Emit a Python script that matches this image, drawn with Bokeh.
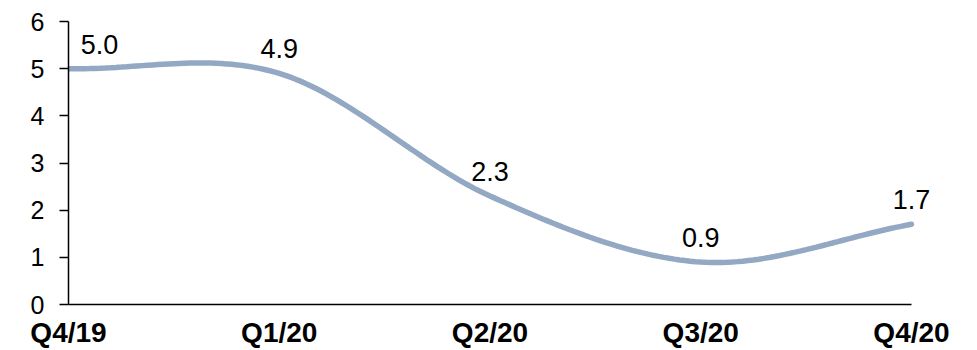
from bokeh.plotting import figure
from bokeh.models import ColumnDataSource, FixedTicker, LabelSet
from bokeh.core.properties import value
from bokeh.embed import file_html
from bokeh.resources import INLINE

# Quarterly values
quarters = ["Q4/19", "Q1/20", "Q2/20", "Q3/20", "Q4/20"]
values = [5.0, 4.9, 2.3, 0.9, 1.7]
labels = ["5.0", "4.9", "2.3", "0.9", "1.7"]

FONT = "Liberation Sans"
LINE_COLOR = "#93A8C3"

xs = list(range(len(quarters)))


def smooth_curve(x, y, steps=40):
    """Cubic Bezier smoothing through every point (Catmull-Rom style tangents)."""
    n = len(y)
    tang = []
    for i in range(n):
        if i == 0:
            tang.append(y[1] - y[0])
        elif i == n - 1:
            tang.append(y[-1] - y[-2])
        else:
            tang.append((y[i + 1] - y[i - 1]) / 2.0)
    cx, cy = [], []
    for i in range(n - 1):
        b0 = y[i]
        b1 = y[i] + tang[i] / 3.0
        b2 = y[i + 1] - tang[i + 1] / 3.0
        b3 = y[i + 1]
        for k in range(steps + (1 if i == n - 2 else 0)):
            t = k / steps
            u = 1 - t
            cx.append(x[i] + t * (x[i + 1] - x[i]))
            cy.append(u ** 3 * b0 + 3 * u * u * t * b1 + 3 * u * t * t * b2 + t ** 3 * b3)
    return cx, cy


# frame runs 68..967 px; one quarter step is ~210.75 px, so the range is
# extended a little past the last quarter to leave room for its label
x_end = (len(quarters) - 1) * 899 / 843.0

p = figure(
    width=977, height=350,
    x_range=(0, x_end), y_range=(0, 6),
    output_backend="svg", toolbar_location=None,
    min_border_left=68, min_border_right=10,
    min_border_top=21, min_border_bottom=45,
)
p.outline_line_color = None
p.grid.grid_line_color = None
p.background_fill_color = "white"
p.border_fill_color = "white"

cx, cy = smooth_curve(xs, values)
p.line(cx, cy, line_color=LINE_COLOR, line_width=5.5, line_cap="round")

# value labels above each point; the first one sits a little to the right
label_dx = [31, 0, 0, 0, 0]
src = ColumnDataSource(dict(x=xs, y=values, text=labels, dx=label_dx))
p.add_layout(LabelSet(x="x", y="y", text="text", x_offset="dx", y_offset=15, source=src,
                      text_align="center", text_baseline="bottom",
                      text_font=value(FONT), text_font_size=value("27px"),
                      text_color=value("black")))

# y axis
p.yaxis.ticker = FixedTicker(ticks=[0, 1, 2, 3, 4, 5, 6])
p.yaxis.axis_line_color = "black"
p.yaxis.axis_line_width = 1.5
p.yaxis.major_tick_line_color = "black"
p.yaxis.major_tick_line_width = 1.5
p.yaxis.major_tick_in = 0
p.yaxis.major_tick_out = 9
p.yaxis.minor_tick_line_color = None
p.yaxis.major_label_standoff = 15
p.yaxis.major_label_text_font = FONT
p.yaxis.major_label_text_font_size = "25px"
p.yaxis.major_label_text_color = "black"

# x axis with quarter names; the axis line stops at the last quarter
p.xaxis.ticker = FixedTicker(ticks=xs)
p.xaxis.bounds = (0, len(quarters) - 1)
p.xaxis.major_label_overrides = {i: q for i, q in enumerate(quarters)}
p.xaxis.axis_line_color = "black"
p.xaxis.axis_line_width = 1.5
p.xaxis.major_tick_line_color = None
p.xaxis.minor_tick_line_color = None
p.xaxis.major_tick_out = 0
p.xaxis.major_tick_in = 0
p.xaxis.major_label_standoff = 12
p.xaxis.major_label_text_font = FONT
p.xaxis.major_label_text_font_style = "bold"
p.xaxis.major_label_text_font_size = "28px"
p.xaxis.major_label_text_color = "black"

open("out.html", "w").write(file_html(p, INLINE))
